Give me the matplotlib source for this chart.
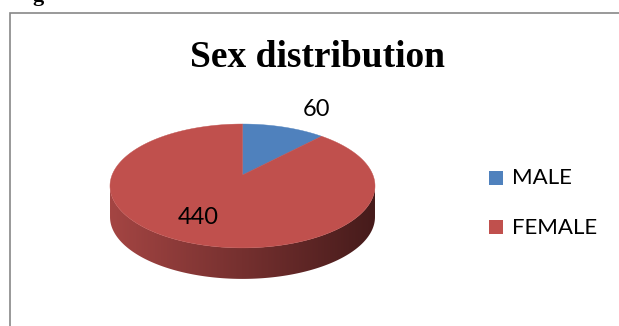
import numpy as np
import matplotlib
matplotlib.use("Agg")
import matplotlib.pyplot as plt
from matplotlib.patches import Polygon, Rectangle
from matplotlib.colors import to_rgb

# --- data ---
labels = ["MALE", "FEMALE"]
counts = [60, 440]
colors = ["#4F81BD", "#C0504D"]
title = "Sex distribution"

# --- layout (pixels) ---
W, H = 619, 326
cx, cy = 242.5, 175.0        # pie apex
A, B, k = 130.4, 60.0, 0.177  # perspective disk params
depth = 31
label_xy = [(317, 110), (198, 218)]
side_left, side_right = "#A44543", "#461B1B"

fig = plt.figure(figsize=(W / 100, H / 100), dpi=100)
ax = fig.add_axes([0, 0, 1, 1])


def project(phi, r=1.0):
    # phi measured clockwise from 12 o'clock (back of the disk)
    X = r * np.sin(phi)
    Y = r * np.cos(phi)
    s = 1 + k * Y
    return cx + A * X / s, cy - B * Y / s


# side of the 3D pie (front arc + shifted copy), with horizontal gradient
phi = np.linspace(0, 2 * np.pi, 1441)
ox, oy = project(phi)
i_r, i_l = int(np.argmax(ox)), int(np.argmin(ox))
fx, fy = ox[i_r:i_l + 1], oy[i_r:i_l + 1]
side_pts = np.vstack([np.column_stack([fx, fy]),
                      np.column_stack([fx[::-1], fy[::-1] + depth])])
side = Polygon(side_pts, closed=True, facecolor="none", edgecolor="none")
ax.add_patch(side)
c0, c1 = np.array(to_rgb(side_left)), np.array(to_rgb(side_right))
t = np.linspace(0, 1, 256)[None, :, None]
grad = c0 + (c1 - c0) * t
im = ax.imshow(grad, extent=(ox.min(), ox.max(), oy.max() + depth, oy.min()),
               aspect="auto", interpolation="bilinear", zorder=1)
im.set_clip_path(side)

# top face wedges
total = float(sum(counts))
start = 0.0
for val, col in zip(counts, colors):
    span = val / total * 2 * np.pi
    a = np.linspace(start, start + span, max(int(span * 200), 2))
    wx, wy = project(a)
    pts = np.vstack([[cx, cy], np.column_stack([wx, wy])])
    ax.add_patch(Polygon(pts, closed=True, facecolor=col, edgecolor=col,
                         lw=0.3, zorder=2))
    start += span

# data labels
for val, (lx, ly) in zip(counts, label_xy):
    ax.text(lx, ly, str(val), fontsize=17, family="Lato", color="black",
            ha="center", va="center", zorder=3)

# legend
for i, (lab, col) in enumerate(zip(labels, colors)):
    y0 = 171 + i * 49
    ax.add_patch(Rectangle((489, y0), 14, 14, facecolor=col, edgecolor="none"))
    ax.text(512, y0 + 7.5, lab, fontsize=16, family="Lato", color="black",
            ha="left", va="center")

# title
ax.text(317, 67, title, fontsize=27, family="Liberation Serif",
        fontweight="bold", ha="center", va="baseline")

# chart frame and cropped caption above it
ax.plot([9.5, 9.5, W], [H, 12.5, 12.5], color="#878787", lw=1.2,
        solid_joinstyle="miter")
ax.text(32, 0.5, "g", fontsize=16, family="Liberation Serif",
        fontweight="bold", ha="left", va="baseline")

ax.set_xlim(0, W)
ax.set_ylim(H, 0)
ax.axis("off")
fig.savefig("out.png", dpi=100)
